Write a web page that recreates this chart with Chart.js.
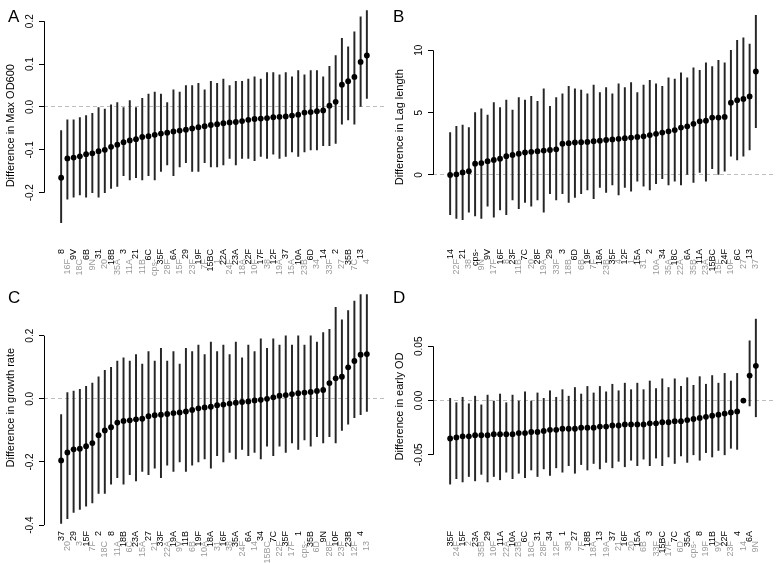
<!DOCTYPE html>
<html>
<head>
<meta charset="utf-8">
<script src="https://cdn.jsdelivr.net/npm/chart.js@4.4.1/dist/chart.umd.min.js"></script>
<style>
  body { margin: 0; width: 778px; height: 563px; overflow: hidden; position: relative; background: #fff; font-family: "Liberation Sans", Arial, sans-serif; }
  canvas { position: absolute; }
  .tag { position: absolute; font-size: 17px; line-height: 17px; color: #000; }
</style>
</head>
<body>
<canvas id="chartA" width="389" height="300" style="left:0;top:0"></canvas>
<canvas id="chartB" width="389" height="300" style="left:389px;top:0"></canvas>
<canvas id="chartC" width="389" height="281" style="left:0;top:282px"></canvas>
<canvas id="chartD" width="389" height="281" style="left:389px;top:282px"></canvas>
<div class="tag" style="left:8px;top:8px">A</div>
<div class="tag" style="left:393px;top:8px">B</div>
<div class="tag" style="left:8px;top:289px">C</div>
<div class="tag" style="left:393px;top:289px">D</div>
<script>
// A - Max OD600
const strainsA = ['8','16F','9V','18C','6B','9N','31','20','18B','35A','3','11A','21','11B','6C','cps-','35F','28F','6A','15F','29','23F','19F','7F','15BC','1','22A','24F','23A','18A','22F','10F','17F','38','12F','19A','37','15A','10A','23B','6D','34','14','33F','2','27','35B','7C','13','4'];
const valA = [-0.165,-0.12,-0.118,-0.115,-0.11,-0.108,-0.103,-0.1,-0.093,-0.088,-0.082,-0.078,-0.075,-0.07,-0.068,-0.065,-0.062,-0.06,-0.057,-0.055,-0.053,-0.05,-0.047,-0.045,-0.042,-0.04,-0.038,-0.036,-0.035,-0.033,-0.03,-0.028,-0.027,-0.026,-0.024,-0.023,-0.022,-0.02,-0.018,-0.013,-0.012,-0.01,-0.008,0.003,0.012,0.052,0.06,0.07,0.105,0.12];
const loA = [-0.27,-0.215,-0.21,-0.205,-0.21,-0.2,-0.21,-0.2,-0.19,-0.185,-0.16,-0.17,-0.165,-0.17,-0.16,-0.17,-0.15,-0.135,-0.16,-0.14,-0.13,-0.15,-0.15,-0.13,-0.14,-0.14,-0.135,-0.12,-0.135,-0.12,-0.12,-0.125,-0.115,-0.12,-0.11,-0.12,-0.115,-0.105,-0.115,-0.105,-0.1,-0.1,-0.09,-0.09,-0.085,-0.04,-0.03,-0.04,0.0,0.02];
const hiA = [-0.055,-0.03,-0.03,-0.025,-0.02,-0.015,0.0,-0.005,0.005,0.01,0.0,0.015,0.0,0.02,0.03,0.035,0.03,0.01,0.04,0.035,0.05,0.05,0.055,0.04,0.06,0.055,0.065,0.05,0.06,0.06,0.065,0.07,0.065,0.08,0.08,0.075,0.08,0.07,0.085,0.075,0.085,0.085,0.07,0.095,0.12,0.16,0.14,0.175,0.21,0.225];
const tickValA = [-0.2, -0.1, 0, 0.1, 0.2];
const tickTextA = ['-0.2', '-0.1', '0.0', '0.1', '0.2'];

// B - Lag length
const strainsB = ['14','22F','21','38','cps-','9N','9V','17F','16F','8','23F','11B','7C','20','28F','19A','29','33F','3','18B','6D','6B','19F','7F','18A','23B','35F','4','12F','1','15A','31','2','10A','34','35A','18C','22A','6A','35B','11A','23A','15BC','15F','24F','10F','6C','27','13','37'];
const valB = [0.0,0.05,0.2,0.3,0.9,0.95,1.1,1.2,1.3,1.5,1.6,1.7,1.8,1.85,1.9,1.95,2.0,2.05,2.5,2.55,2.6,2.62,2.65,2.7,2.75,2.8,2.85,2.9,2.95,3.0,3.05,3.1,3.2,3.3,3.4,3.5,3.6,3.8,3.9,4.1,4.3,4.35,4.6,4.6,4.65,5.8,6.0,6.1,6.3,8.3];
const loB = [-3.2,-3.5,-3.6,-3.0,-3.3,-3.5,-2.5,-3.4,-2.8,-3.2,-2.0,-2.7,-2.2,-2.5,-2.0,-3.0,-1.5,-2.0,-1.5,-2.2,-1.8,-1.5,-1.2,-1.9,-1.0,-1.4,-0.8,-1.6,-1.0,-1.3,-0.5,-0.9,-1.2,-0.7,-0.3,-0.8,-0.5,-0.8,0.0,-0.6,0.2,-0.5,0.5,0.0,0.3,1.5,1.2,1.5,2.0,3.8];
const hiB = [3.4,3.9,4.0,3.8,5.0,5.3,4.8,5.8,5.4,6.0,5.2,6.2,6.0,6.3,5.9,6.9,5.5,6.2,6.5,7.1,6.9,6.8,6.5,7.2,6.6,7.0,6.5,7.3,7.0,7.4,6.6,7.2,7.6,7.3,7.1,7.8,7.7,8.2,7.8,8.6,8.4,9.0,8.7,9.2,9.0,10.0,10.8,11.0,10.5,12.8];
const tickValB = [0, 5, 10];
const tickTextB = ['0', '5', '10'];

// C - growth rate
const strainsC = ['37','20','29','3','15F','7F','2','18C','8','11A','18B','6C','23A','15A','27','21','33F','22A','19A','9V','11B','6B','19F','10A','18A','31','16F','38','35A','24F','6A','14','34','15BC','7C','22F','35F','17F','1','cps-','35B','6D','9N','28F','10F','23F','23B','12F','4','13'];
const valC = [-0.195,-0.17,-0.16,-0.158,-0.15,-0.14,-0.115,-0.1,-0.09,-0.075,-0.07,-0.068,-0.065,-0.063,-0.055,-0.052,-0.05,-0.048,-0.045,-0.043,-0.04,-0.035,-0.03,-0.027,-0.025,-0.02,-0.018,-0.015,-0.012,-0.01,-0.008,-0.005,-0.003,0.0,0.005,0.01,0.012,0.015,0.018,0.02,0.022,0.025,0.028,0.05,0.065,0.07,0.1,0.12,0.14,0.142];
const loC = [-0.395,-0.38,-0.36,-0.35,-0.34,-0.33,-0.3,-0.3,-0.27,-0.25,-0.27,-0.24,-0.26,-0.23,-0.24,-0.22,-0.25,-0.21,-0.23,-0.2,-0.23,-0.21,-0.2,-0.19,-0.22,-0.18,-0.2,-0.17,-0.19,-0.16,-0.18,-0.17,-0.19,-0.15,-0.18,-0.15,-0.17,-0.14,-0.16,-0.13,-0.15,-0.12,-0.14,-0.12,-0.14,-0.1,-0.08,-0.06,-0.05,-0.04];
const hiC = [-0.05,0.02,0.025,0.03,0.04,0.05,0.07,0.09,0.1,0.12,0.13,0.12,0.14,0.11,0.15,0.12,0.16,0.12,0.15,0.11,0.16,0.15,0.17,0.14,0.18,0.15,0.17,0.14,0.18,0.13,0.17,0.15,0.19,0.16,0.19,0.17,0.2,0.17,0.2,0.17,0.2,0.18,0.21,0.22,0.29,0.25,0.28,0.31,0.33,0.33];
const tickValC = [-0.4, -0.2, 0, 0.2];
const tickTextC = ['-0.4', '-0.2', '0.0', '0.2'];

// D - early OD
const strainsD = ['35F','24F','15F','2','23A','35B','29','10F','11A','22A','10A','23B','6C','18C','31','28F','34','12F','1','38','27','7F','18B','18A','13','19A','37','21','16F','20','15A','6B','3','33F','15BC','17F','7C','6D','35A','cps-','8','19F','11B','9V','22F','23F','4','14','6A','9N'];
const valD = [-0.035,-0.034,-0.033,-0.033,-0.032,-0.032,-0.032,-0.031,-0.031,-0.031,-0.031,-0.03,-0.03,-0.029,-0.029,-0.028,-0.027,-0.027,-0.026,-0.026,-0.026,-0.025,-0.025,-0.025,-0.024,-0.024,-0.023,-0.023,-0.022,-0.022,-0.022,-0.022,-0.021,-0.021,-0.02,-0.02,-0.019,-0.019,-0.018,-0.017,-0.016,-0.015,-0.014,-0.013,-0.012,-0.011,-0.01,0.0,0.023,0.032];
const loD = [-0.077,-0.072,-0.075,-0.07,-0.074,-0.068,-0.075,-0.07,-0.073,-0.066,-0.072,-0.067,-0.071,-0.064,-0.07,-0.063,-0.069,-0.062,-0.066,-0.06,-0.067,-0.059,-0.064,-0.058,-0.063,-0.057,-0.062,-0.056,-0.061,-0.055,-0.06,-0.054,-0.06,-0.053,-0.06,-0.052,-0.058,-0.051,-0.057,-0.05,-0.055,-0.048,-0.052,-0.046,-0.05,-0.044,-0.045,-0.002,-0.005,-0.015];
const hiD = [0.002,-0.002,0.003,-0.003,0.004,-0.004,0.005,0.0,0.006,-0.002,0.005,0.0,0.008,0.0,0.007,0.002,0.009,0.003,0.01,0.004,0.012,0.006,0.013,0.007,0.013,0.008,0.015,0.009,0.016,0.01,0.016,0.01,0.018,0.011,0.02,0.012,0.02,0.013,0.021,0.014,0.022,0.015,0.023,0.016,0.025,0.018,0.025,0.002,0.055,0.075];
const tickValD = [-0.05, 0, 0.05];
const tickTextD = ['-0.05', '0.00', '0.05'];

const fontFamily = '"Liberation Sans", Arial, sans-serif';
const chartTop = 3;
const chartBottom = 245;
// every second strain name is grey and pushed one step down the axis
const greyShift = '\u2007\u00A0\u00A0';

// R style y axis: the line only runs from the first to the last tick
const axisLine = {
    id: 'axisLine',
    afterDraw(chart) {
        const y = chart.scales.y;
        const x = Math.round(chart.chartArea.left - 0.5) + 0.5;
        const ctx = chart.ctx;
        ctx.save();
        ctx.strokeStyle = '#000';
        ctx.lineWidth = 1;
        ctx.beginPath();
        ctx.moveTo(x, y.getPixelForValue(y.ticks[0].value));
        ctx.lineTo(x, y.getPixelForValue(y.ticks[y.ticks.length - 1].value));
        ctx.stroke();
        ctx.restore();
    }
};

function makePanel(id, names, vals, lo, hi, yTicks, yText, yMin, yMax, yTitle) {
    const canvas = document.getElementById(id);
    const h = canvas.height;
    const pos = names.map((n, i) => i + 1);

    // rotated y labels are centred by chart.js, shifted by half the widest label
    const m = canvas.getContext('2d');
    m.font = '10px ' + fontFamily;
    const widest = Math.max(...yText.map(t => m.measureText(t).width));

    new Chart(canvas, {
        type: 'bar',
        data: {
            datasets: [
                {
                    type: 'bar',
                    data: pos.map((p, i) => ({ x: p, y: [lo[i], hi[i]] })),
                    backgroundColor: '#262626',
                    barThickness: 1.3,
                    order: 2
                },
                {
                    type: 'line',
                    data: pos.map((p, i) => ({ x: p, y: vals[i] })),
                    showLine: false,
                    pointRadius: 2.9,
                    pointBackgroundColor: '#000',
                    pointBorderWidth: 0,
                    order: 1
                }
            ]
        },
        plugins: [axisLine],
        options: {
            responsive: false,
            animation: false,
            devicePixelRatio: 1,
            layout: { padding: { left: 0, right: 4, top: chartTop, bottom: 0 } },
            plugins: { legend: { display: false }, tooltip: { enabled: false } },
            scales: {
                x: {
                    type: 'linear',
                    min: -1.2,
                    max: 52.36,
                    grid: { display: false, drawTicks: false },
                    border: { display: false },
                    afterBuildTicks: s => { s.ticks = pos.map(v => ({ value: v })); },
                    afterFit: s => { s.height = h - chartBottom; },
                    ticks: {
                        autoSkip: false, minRotation: 90, maxRotation: 90, padding: 4,
                        color: c => c.index % 2 ? '#9a9a9a' : '#000',
                        font: { family: fontFamily, size: 9 },
                        callback: (v, i) => i % 2 ? names[v - 1] + greyShift : names[v - 1]
                    }
                },
                y: {
                    min: yMin,
                    max: yMax,
                    afterBuildTicks: s => { s.ticks = yTicks.map(v => ({ value: v })); },
                    afterFit: s => { s.width = 44; },
                    ticks: {
                        minRotation: 90, maxRotation: 90, crossAlign: 'center',
                        padding: 9 - widest / 2,
                        color: '#000', font: { family: fontFamily, size: 10 },
                        callback: (v, i) => yText[i]
                    },
                    grid: {
                        color: c => (c.tick && c.tick.value === 0) ? '#bdbdbd' : 'rgba(0,0,0,0)',
                        tickColor: '#000', tickLength: 5, lineWidth: 1
                    },
                    border: { display: false, dash: [4, 3] },
                    title: {
                        display: true, text: yTitle, color: '#000',
                        font: { family: fontFamily, size: 11 }, padding: { top: 4, bottom: 0 }
                    }
                }
            }
        }
    });
}

makePanel('chartA', strainsA, valA, loA, hiA, tickValA, tickTextA, -0.3218, 0.2345, 'Difference in Max OD600');
makePanel('chartB', strainsB, valB, loB, hiB, tickValB, tickTextB, -5.625, 13.28, 'Difference in Lag length');
makePanel('chartC', strainsC, valC, loC, hiC, tickValC, tickTextC, -0.406, 0.35, 'Difference in growth rate');
makePanel('chartD', strainsD, valD, loD, hiD, tickValD, tickTextD, -0.1165, 0.1055, 'Difference in early OD');
</script>
</body>
</html>
